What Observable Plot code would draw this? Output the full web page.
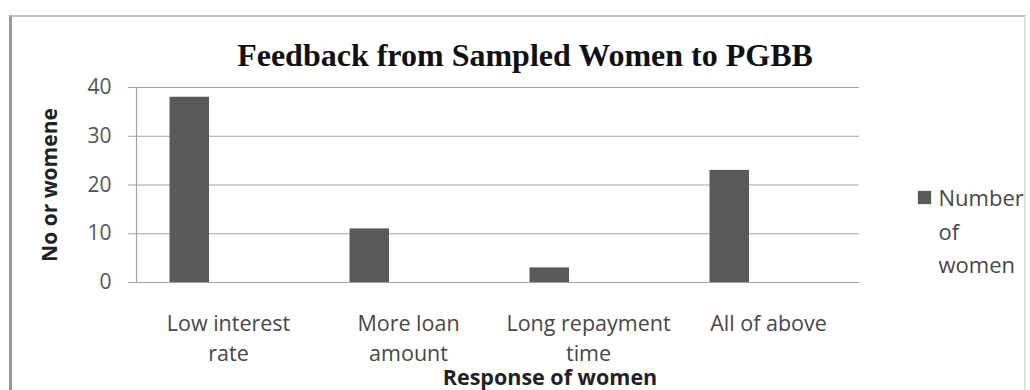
<!DOCTYPE html>
<html>
<head>
<meta charset="utf-8">
<script src="https://cdn.jsdelivr.net/npm/d3@7"></script>
<script src="https://cdn.jsdelivr.net/npm/@observablehq/plot@0.6"></script>
<style>
  html, body { margin: 0; padding: 0; background: #fff; }
  #wrap { position: relative; width: 1030px; height: 390px; overflow: hidden; }
  #border {
    position: absolute; left: 9px; top: 15px; width: 1012px; height: 400px;
    border-left: 3px solid #9a9a9a; border-top: 2px solid #c4c4c4; border-right: 2px solid #e2e2e2;
  }
  #chart { position: absolute; left: 0; top: 0; }
</style>
</head>
<body>
<div id="wrap"><div id="border"></div><div id="chart"></div></div>
<script>
// Survey responses: what the sampled women asked of PGBB
const categories = ["Low interest rate", "More loan amount", "Long repayment time", "All of above"];
const counts = [38, 11, 3, 23];
const tickLabels = ["Low interest\nrate", "More loan\namount", "Long repayment\ntime", "All of above"];
const yTicks = [0, 10, 20, 30, 40];
const seriesName = "Number\nof\nwomen";
const title = "Feedback from Sampled Women to PGBB";
const xTitle = "Response of women";
const yTitle = "No or womene";

const data = categories.map((c, i) => ({category: c, count: counts[i]}));
const labelOf = new Map(categories.map((c, i) => [c, tickLabels[i]]));

const sans = "'Open Sans', Lato, sans-serif";
const barColor = "#5a5a5a";
const textColor = "#474747";

const chart = Plot.plot({
  width: 1030,
  height: 390,
  marginLeft: 136,
  marginRight: 171,
  marginTop: 87,
  marginBottom: 108,
  style: {fontFamily: sans, background: "transparent"},
  x: {type: "band", domain: categories, padding: 0},
  y: {domain: [0, 40]},
  marks: [
    // horizontal gridlines
    Plot.ruleY(yTicks, {stroke: "#a3a3a3", strokeWidth: 1.2}),
    // value axis line
    Plot.frame({anchor: "left", stroke: "#a3a3a3", strokeWidth: 1.2}),
    Plot.axisY({
      ticks: yTicks, tickSize: 8, tickPadding: 17, stroke: "#a3a3a3",
      fontSize: 21, fill: "#555", label: null
    }),
    Plot.axisX({
      tickSize: 0, tickPadding: 28, fontSize: 21.5, fill: textColor,
      lineHeight: 1.36, tickFormat: d => labelOf.get(d), label: null
    }),
    // bars sit in the left part of each category band
    Plot.barY(data, {x: "category", y: "count", fill: barColor, insetLeft: 31.5, insetRight: 109}),
    // chart title
    Plot.text([title], {
      frameAnchor: "top", lineAnchor: "middle", dx: 27, dy: -32,
      fontFamily: "'Liberation Serif', 'Times New Roman', serif",
      fontWeight: "bold", fontSize: 32, fill: "#111"
    }),
    // axis titles
    Plot.text([yTitle], {
      frameAnchor: "left", textAnchor: "middle", lineAnchor: "middle", dx: -86, rotate: -90,
      fontWeight: "bold", fontSize: 21, fill: "#222"
    }),
    Plot.text([xTitle], {
      frameAnchor: "bottom", lineAnchor: "middle", dx: 52, dy: 96,
      fontWeight: "bold", fontSize: 21.5, fill: "#222"
    }),
    // legend
    Plot.dot([seriesName], {
      frameAnchor: "top-right", dx: 65, dy: 110, symbol: "square", r: 7.5, fill: barColor
    }),
    Plot.text([seriesName], {
      frameAnchor: "top-right", dx: 79, dy: 95, textAnchor: "start", lineAnchor: "top",
      lineHeight: 1.52, fontSize: 22, fill: textColor
    })
  ]
});
document.getElementById("chart").appendChild(chart);
</script>
</body>
</html>
